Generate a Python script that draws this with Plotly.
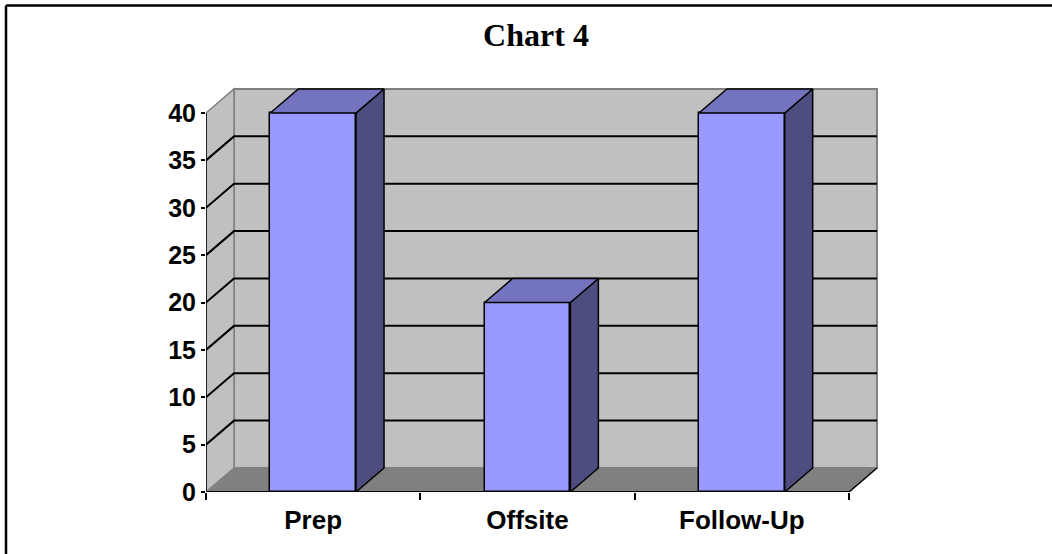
import plotly.graph_objects as go

# ---- data ----
categories = ["Prep", "Offsite", "Follow-Up"]
values = [40, 20, 40]
y_ticks = [0, 5, 10, 15, 20, 25, 30, 35, 40]
title_text = "Chart 4"

# ---- styling / geometry ----
FRONT = "#9999FF"
TOP = "#7373BF"
SIDE = "#4D4D80"
WALL = "#C0C0C0"
FLOOR = "#808080"
EDGE_GRAY = "#808080"

W, H = 1052, 554
ML, MR, MT, MB = 206, 172, 80, 62
px_per_cat = 214.33
px_per_val = 9.475
plot_w = W - ML - MR
plot_h = H - MT - MB
x_min = -0.5
x_max = x_min + plot_w / px_per_cat
y_max = plot_h / px_per_val
ymax_axis = max(y_ticks)
dx = 28 / px_per_cat      # depth offset, category units
dy = 24 / px_per_val      # depth offset, value units
bar_w = 0.4

n = len(categories)
xs = list(range(n))
x_left, x_right = -0.5, n - 0.5

fig = go.Figure()


def path_of(px, py):
    return "M " + " L ".join(f"{a},{b}" for a, b in zip(px, py)) + " Z"


def bg_poly(px, py, fill, line_color, line_width=1):
    fig.add_shape(type="path", xref="x", yref="y", path=path_of(px, py),
                  fillcolor=fill, line=dict(color=line_color, width=line_width),
                  layer="below")


def bg_seg(px, py, color, width):
    fig.add_shape(type="path", xref="x", yref="y",
                  path="M " + " L ".join(f"{a},{b}" for a, b in zip(px, py)),
                  line=dict(color=color, width=width), layer="below")


def poly(px, py, fill, line_color, line_width=1):
    fig.add_trace(go.Scatter(
        x=px + [px[0]], y=py + [py[0]], mode="lines", fill="toself",
        fillcolor=fill, line=dict(color=line_color, width=line_width),
        hoverinfo="skip", showlegend=False))


def seg(px, py, color, width):
    fig.add_trace(go.Scatter(x=px, y=py, mode="lines",
                             line=dict(color=color, width=width),
                             hoverinfo="skip", showlegend=False))


# back wall
bg_poly([x_left + dx, x_right + dx, x_right + dx, x_left + dx],
        [dy, dy, ymax_axis + dy, ymax_axis + dy], WALL, EDGE_GRAY, 2)
# left side wall
bg_poly([x_left, x_left + dx, x_left + dx, x_left],
        [0, dy, ymax_axis + dy, ymax_axis], WALL, EDGE_GRAY, 1.5)
# floor
bg_poly([x_left, x_right, x_right + dx, x_left + dx],
        [0, 0, dy, dy], FLOOR, EDGE_GRAY, 1)
# right floor edge (black)
bg_seg([x_right, x_right + dx], [0, dy], "black", 1.5)

# gridlines
for v in y_ticks[1:-1]:
    bg_seg([x_left, x_left + dx, x_right + dx], [v, v + dy, v + dy], "black", 2)

# bars: front faces
fig.add_trace(go.Bar(x=xs, y=values, width=bar_w,
                     marker=dict(color=FRONT, line=dict(color="black", width=1.5)),
                     hoverinfo="skip", showlegend=False))
# bars: side and top faces
for c, v in zip(xs, values):
    l, r = c - bar_w / 2, c + bar_w / 2
    poly([r, r + dx, r + dx, r], [0, dy, v + dy, v], SIDE, "black", 1.5)
    poly([l, r, r + dx, l + dx], [v, v, v + dy, v + dy], TOP, "black", 1.5)

# front axes lines
seg([x_left, x_left], [0, ymax_axis], "black", 1.5)
seg([x_left, x_right], [0, 0], "black", 2)


# outer chart border (top and left edges)
def px2paper_x(p):
    return (p - ML) / plot_w


def px2paper_y(p):
    return (H - MB - p) / plot_h


fig.add_shape(type="line", xref="paper", yref="paper",
              x0=px2paper_x(6), x1=px2paper_x(W + 10),
              y0=px2paper_y(5.5), y1=px2paper_y(5.5),
              line=dict(color="black", width=2.5))
fig.add_shape(type="line", xref="paper", yref="paper",
              x0=px2paper_x(6), x1=px2paper_x(6),
              y0=px2paper_y(5.5), y1=px2paper_y(H + 10),
              line=dict(color="black", width=2.5))

fig.update_layout(
    width=W, height=H,
    margin=dict(l=ML, r=MR, t=MT, b=MB, pad=0),
    paper_bgcolor="white", plot_bgcolor="white",
    bargap=0,
    title=dict(text=title_text, x=536 / W, xref="container",
               xanchor="center", y=1 - 35 / H, yref="container", yanchor="middle",
               font=dict(family="Liberation Serif", size=32, color="black", weight="bold")),
    xaxis=dict(range=[x_min, x_max], tickmode="array", tickvals=xs, ticktext=categories,
               showgrid=False, zeroline=False, showline=False, ticks="",
               ticklabelstandoff=10,
               tickfont=dict(family="Liberation Sans", size=26, color="black", weight="bold"),
               minor=dict(tickmode="array", tickvals=[x_left + i for i in range(n + 1)],
                          ticks="outside", ticklen=7, tickwidth=1.5, tickcolor="black",
                          showgrid=False),
               fixedrange=True),
    yaxis=dict(range=[0, y_max], tickmode="array", tickvals=y_ticks,
               ticktext=[str(t) for t in y_ticks],
               showgrid=False, zeroline=False, showline=False,
               ticks="outside", ticklen=4, tickwidth=1.5, tickcolor="black",
               tickfont=dict(family="Liberation Sans", size=25, color="black", weight="bold"),
               fixedrange=True),
)

fig.write_html("out.html")
